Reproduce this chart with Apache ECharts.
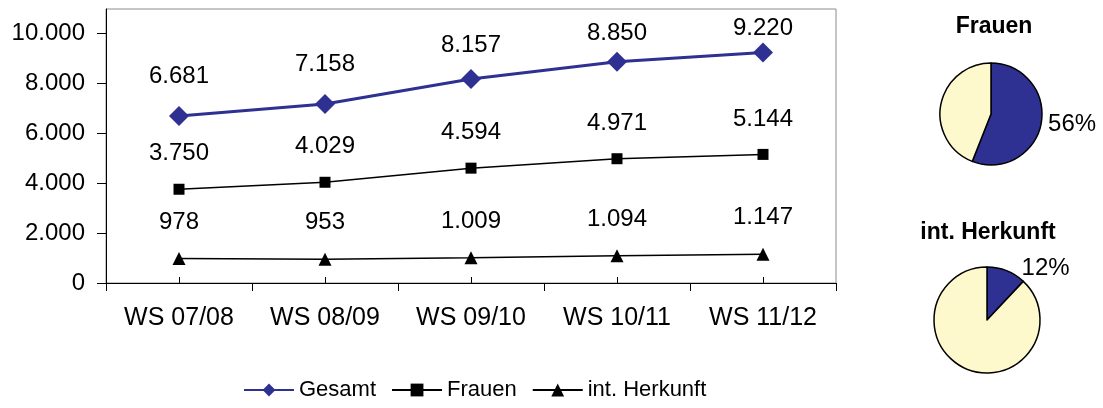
<!DOCTYPE html>
<html>
<head>
<meta charset="utf-8">
<script src="https://cdn.jsdelivr.net/npm/echarts@6/dist/echarts.min.js"></script>
<style>
  html, body { margin: 0; padding: 0; background: #fff; }
  #chart { width: 1103px; height: 408px; }
</style>
</head>
<body>
<div id="chart"></div>
<script>
// Wintersemester
const semester = ['WS 07/08', 'WS 08/09', 'WS 09/10', 'WS 10/11', 'WS 11/12'];
const gesamt = [6681, 7158, 8157, 8850, 9220];
const frauen = [3750, 4029, 4594, 4971, 5144];
const intHerkunft = [978, 953, 1009, 1094, 1147];
const yTicks = [0, 2000, 4000, 6000, 8000, 10000];

// Anteile im WS 11/12 (Prozent)
const frauenAnteil = [56, 44];
const intAnteil = [12, 88];

// Beschriftungen oben rechts etwas nach unten gerueckt (wie im Original)
const gesamtLabelShift = [0, 0, 6, 12, 16];

const blau = '#2e3192';
const creme = '#fdf9cd';
const font = 'Liberation Sans, Arial, sans-serif';

const fmt = (v) => String(v).replace(/\B(?=(\d{3})+(?!\d))/g, '.');

const chart = echarts.init(document.getElementById('chart'));

const lineLabel = {
  show: true,
  position: 'top',
  distance: 18,
  fontFamily: font,
  fontSize: 24,
  color: '#000',
  formatter: (p) => fmt(p.value),
};

const pieSeries = (name, data, center, radius, length2) => ({
  name,
  type: 'pie',
  center,
  radius,
  startAngle: 90,
  clockwise: true,
  silent: true,
  data: [
    { value: data[0], itemStyle: { color: blau }, label: { show: true } },
    { value: data[1], itemStyle: { color: creme }, label: { show: false } },
  ],
  itemStyle: { borderColor: '#000', borderWidth: 1.5 },
  label: {
    position: 'outside',
    formatter: '{c}%',
    fontFamily: font,
    fontSize: 24,
    color: '#000',
    overflow: 'none',
    bleedMargin: 0,
    distanceToLabelLine: 4,
  },
  labelLine: { show: false, length: 3, length2 },
  emphasis: { disabled: true },
});

chart.setOption({
  animation: false,
  textStyle: { fontFamily: font },
  title: [
    { text: 'Frauen', left: 989, top: 10, textAlign: 'center',
      textStyle: { fontFamily: font, fontSize: 23, fontWeight: 'bold', color: '#000' } },
    { text: 'int. Herkunft', left: 983, top: 216, textAlign: 'center',
      textStyle: { fontFamily: font, fontSize: 23, fontWeight: 'bold', color: '#000' } },
  ],
  legend: {
    bottom: 2,
    left: 238,
    itemWidth: 50,
    itemHeight: 16,
    itemGap: 15,
    textStyle: { fontFamily: font, fontSize: 22, color: '#000' },
    data: ['Gesamt', 'Frauen', 'int. Herkunft'],
  },
  grid: {
    left: 106,
    right: 267,
    top: 9,
    bottom: 125,
    show: true,
    borderColor: '#8c8c8c',
    borderWidth: 1,
  },
  xAxis: [{
    type: 'category',
    data: semester,
    boundaryGap: true,
    axisLine: { lineStyle: { color: '#000', width: 1 } },
    axisTick: { show: true, length: 8, lineStyle: { color: '#000' } },
    axisLabel: { fontFamily: font, fontSize: 25, color: '#000', margin: 23 },
    splitLine: { show: false },
  }, {
    type: 'category',
    data: semester,
    position: 'bottom',
    axisLine: { show: false },
    axisLabel: { show: false },
    axisTick: { show: true, inside: true, alignWithLabel: true, length: 6, lineStyle: { color: '#000' } },
    splitLine: { show: false },
  }],
  yAxis: {
    type: 'value',
    min: 0,
    max: 10960,
    axisLine: { show: true, lineStyle: { color: '#000', width: 1 } },
    axisTick: { show: true, length: 9, customValues: yTicks, lineStyle: { color: '#000' } },
    axisLabel: {
      customValues: yTicks,
      fontFamily: font,
      fontSize: 24,
      color: '#000',
      margin: 21,
      formatter: (v) => fmt(v),
    },
    splitLine: { show: false },
  },
  series: [
    {
      name: 'Gesamt',
      type: 'line',
      data: gesamt.map((v, i) => ({ value: v, label: { offset: [0, gesamtLabelShift[i]] } })),
      symbol: 'diamond',
      symbolSize: 20,
      color: blau,
      lineStyle: { color: blau, width: 3 },
      itemStyle: { color: blau },
      label: lineLabel,
    },
    {
      name: 'Frauen',
      type: 'line',
      data: frauen,
      symbol: 'rect',
      symbolSize: 11,
      color: '#000',
      lineStyle: { color: '#000', width: 1.5 },
      itemStyle: { color: '#000' },
      label: lineLabel,
    },
    {
      name: 'int. Herkunft',
      type: 'line',
      data: intHerkunft,
      symbol: 'triangle',
      symbolSize: 13,
      color: '#000',
      lineStyle: { color: '#000', width: 1.5 },
      itemStyle: { color: '#000' },
      label: lineLabel,
    },
    pieSeries('Frauen-Anteil', frauenAnteil, [991, 114], 51, 0),
    pieSeries('Int-Anteil', intAnteil, [987, 320], 53, 10),
  ],
});
</script>
</body>
</html>
